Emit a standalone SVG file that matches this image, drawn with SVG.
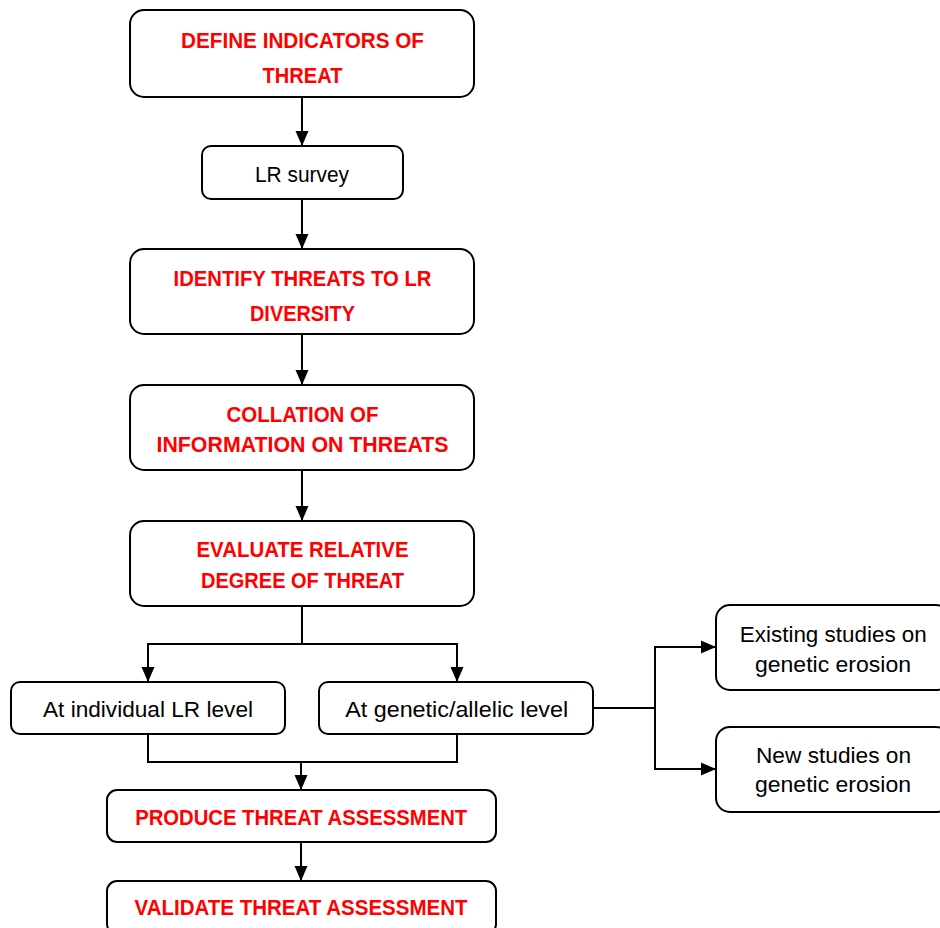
<svg xmlns="http://www.w3.org/2000/svg" width="940" height="928" viewBox="0 0 940 928">
  <style>
    .box { fill: #ffffff; stroke: #000000; stroke-width: 2; }
    .conn { fill: none; stroke: #000000; stroke-width: 2; }
    .red { font-family: "Liberation Sans", Arial, sans-serif; font-weight: bold; font-size: 21.5px; fill: #ff0000; text-anchor: middle; }
    .blk { font-family: "Liberation Sans", Arial, sans-serif; font-size: 22px; fill: #000000; text-anchor: middle; }
  </style>
  <defs>
    <marker id="arrow" markerUnits="userSpaceOnUse" markerWidth="16" markerHeight="14" viewBox="0 0 16 14" refX="15" refY="7" orient="auto">
      <path d="M0,0.5 L15,7 L0,13.5 Z" fill="#000000"/>
    </marker>
  </defs>
  <rect width="940" height="928" fill="#ffffff"/>

  <g id="connectors">
    <path class="conn" d="M302,97 V146" marker-end="url(#arrow)"/>
    <path class="conn" d="M302,199 V249" marker-end="url(#arrow)"/>
    <path class="conn" d="M302,334 V385" marker-end="url(#arrow)"/>
    <path class="conn" d="M302,470 V521" marker-end="url(#arrow)"/>
    <path class="conn" d="M302,606 V644 H148 V682" marker-end="url(#arrow)"/>
    <path class="conn" d="M302,644 H457 V682" marker-end="url(#arrow)"/>
    <path class="conn" d="M148,734 V762 H457 V734"/>
    <path class="conn" d="M301,762 V790" marker-end="url(#arrow)"/>
    <path class="conn" d="M301,842 V881" marker-end="url(#arrow)"/>
    <path class="conn" d="M593,708 H655 V647 H716" marker-end="url(#arrow)"/>
    <path class="conn" d="M655,708 V769 H716" marker-end="url(#arrow)"/>
  </g>

  <g id="define">
    <rect class="box" x="130" y="10" width="344" height="87" rx="14"/>
    <text class="red" x="302.5" y="48" textLength="243" lengthAdjust="spacingAndGlyphs">DEFINE INDICATORS OF</text>
    <text class="red" x="302.5" y="83" textLength="80" lengthAdjust="spacingAndGlyphs">THREAT</text>
  </g>

  <g id="survey">
    <rect class="box" x="202" y="146" width="201" height="53" rx="9"/>
    <text class="blk" x="302" y="182" textLength="94" lengthAdjust="spacingAndGlyphs">LR survey</text>
  </g>

  <g id="identify">
    <rect class="box" x="130" y="249" width="344" height="85" rx="14"/>
    <text class="red" x="302.5" y="286" textLength="258" lengthAdjust="spacingAndGlyphs">IDENTIFY THREATS TO LR</text>
    <text class="red" x="302.5" y="321" textLength="105" lengthAdjust="spacingAndGlyphs">DIVERSITY</text>
  </g>

  <g id="collation">
    <rect class="box" x="130" y="385" width="344" height="85" rx="14"/>
    <text class="red" x="302.5" y="422" textLength="152" lengthAdjust="spacingAndGlyphs">COLLATION OF</text>
    <text class="red" x="302.5" y="452" textLength="292" lengthAdjust="spacingAndGlyphs">INFORMATION ON THREATS</text>
  </g>

  <g id="evaluate">
    <rect class="box" x="130" y="521" width="344" height="85" rx="14"/>
    <text class="red" x="302.5" y="557" textLength="212" lengthAdjust="spacingAndGlyphs">EVALUATE RELATIVE</text>
    <text class="red" x="302.5" y="588" textLength="203" lengthAdjust="spacingAndGlyphs">DEGREE OF THREAT</text>
  </g>

  <g id="individual">
    <rect class="box" x="11" y="682" width="274" height="52" rx="9"/>
    <text class="blk" x="148" y="717" textLength="210" lengthAdjust="spacingAndGlyphs">At individual LR level</text>
  </g>

  <g id="genetic">
    <rect class="box" x="319" y="682" width="274" height="52" rx="9"/>
    <text class="blk" x="456.7" y="717" textLength="223" lengthAdjust="spacingAndGlyphs">At genetic/allelic level</text>
  </g>

  <g id="existing">
    <rect class="box" x="716" y="605" width="234" height="85" rx="14"/>
    <text class="blk" x="833.3" y="642" textLength="187" lengthAdjust="spacingAndGlyphs">Existing studies on</text>
    <text class="blk" x="833" y="672" textLength="156" lengthAdjust="spacingAndGlyphs">genetic erosion</text>
  </g>

  <g id="new">
    <rect class="box" x="716" y="727" width="234" height="85" rx="14"/>
    <text class="blk" x="833.5" y="763" textLength="155" lengthAdjust="spacingAndGlyphs">New studies on</text>
    <text class="blk" x="833" y="792" textLength="156" lengthAdjust="spacingAndGlyphs">genetic erosion</text>
  </g>

  <g id="produce">
    <rect class="box" x="107" y="790" width="389" height="52" rx="10"/>
    <text class="red" x="301.2" y="825" textLength="332" lengthAdjust="spacingAndGlyphs">PRODUCE THREAT ASSESSMENT</text>
  </g>

  <g id="validate">
    <rect class="box" x="107" y="881" width="389" height="53" rx="10"/>
    <text class="red" x="301" y="915" textLength="333" lengthAdjust="spacingAndGlyphs">VALIDATE THREAT ASSESSMENT</text>
  </g>
</svg>
